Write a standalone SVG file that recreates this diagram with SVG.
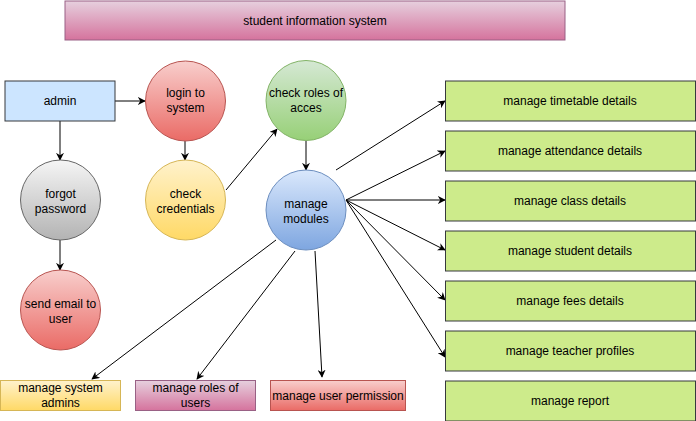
<svg xmlns="http://www.w3.org/2000/svg" width="696" height="421" viewBox="0 0 696 421">
<style>
text{font-family:"Liberation Sans",Arial,sans-serif;font-size:12px;fill:#000;text-anchor:middle}
.e{stroke:#000;stroke-width:1;fill:none;marker-end:url(#ah)}
.g{fill:#cdeb8b;stroke:#36393d}
</style>
<defs>
<marker id="ah" viewBox="0 0 10 10" refX="9" refY="5" markerWidth="8" markerHeight="8" orient="auto" markerUnits="userSpaceOnUse">
<path d="M0,0 L10,5 L0,10 L3,5 Z" fill="#000"/>
</marker>
<linearGradient id="gPink" x1="0" y1="0" x2="0" y2="1"><stop offset="0" stop-color="#e6d0de"/><stop offset="1" stop-color="#d5739d"/></linearGradient>
<linearGradient id="gRed" x1="0" y1="0" x2="0" y2="1"><stop offset="0" stop-color="#f8cecc"/><stop offset="1" stop-color="#ea6b66"/></linearGradient>
<linearGradient id="gYel" x1="0" y1="0" x2="0" y2="1"><stop offset="0" stop-color="#fff2cc"/><stop offset="1" stop-color="#ffd966"/></linearGradient>
<linearGradient id="gGrn" x1="0" y1="0" x2="0" y2="1"><stop offset="0" stop-color="#d5e8d4"/><stop offset="1" stop-color="#97d077"/></linearGradient>
<linearGradient id="gBlu" x1="0" y1="0" x2="0" y2="1"><stop offset="0" stop-color="#dae8fc"/><stop offset="1" stop-color="#7ea6e0"/></linearGradient>
<linearGradient id="gGry" x1="0" y1="0" x2="0" y2="1"><stop offset="0" stop-color="#f5f5f5"/><stop offset="1" stop-color="#b3b3b3"/></linearGradient>
</defs>

<g id="connectors">
<line class="e" x1="115" y1="101" x2="145" y2="101"/>
<line class="e" x1="60" y1="121" x2="60" y2="160"/>
<line class="e" x1="60" y1="240" x2="60" y2="270"/>
<line class="e" x1="185" y1="141" x2="185" y2="160"/>
<line class="e" x1="226" y1="190" x2="277" y2="129"/>
<line class="e" x1="306" y1="141" x2="306" y2="170"/>
<line class="e" x1="336" y1="170" x2="445" y2="101"/>
<line class="e" x1="346" y1="200" x2="445" y2="151"/>
<line class="e" x1="346" y1="200" x2="445" y2="200"/>
<line class="e" x1="346" y1="200" x2="445" y2="250"/>
<line class="e" x1="346" y1="200" x2="445" y2="300"/>
<line class="e" x1="346" y1="200" x2="445" y2="357"/>
<line class="e" x1="276" y1="240" x2="92" y2="379"/>
<line class="e" x1="295" y1="251" x2="197" y2="379"/>
<line class="e" x1="315" y1="251" x2="322" y2="377"/>
</g>

<g id="title">
<rect x="65" y="1" width="500" height="39" fill="url(#gPink)" stroke="#996185"/>
<text x="315" y="25">student information system</text>
</g>

<g id="admin">
<rect x="5" y="81" width="110" height="40" fill="#cce5ff" stroke="#36393d"/>
<text x="60" y="105">admin</text>
</g>

<g id="login">
<circle cx="185.5" cy="101" r="40" fill="url(#gRed)" stroke="#b85450"/>
<text x="185.5" y="97">login to</text>
<text x="185.5" y="112">system</text>
</g>

<g id="check-credentials">
<circle cx="185.5" cy="200" r="40" fill="url(#gYel)" stroke="#d6b656"/>
<text x="185.5" y="198">check</text>
<text x="185.5" y="213">credentials</text>
</g>

<g id="check-roles">
<circle cx="306" cy="100.5" r="40" fill="url(#gGrn)" stroke="#82b366"/>
<text x="306" y="97">check roles of</text>
<text x="306" y="112">acces</text>
</g>

<g id="manage-modules">
<circle cx="306" cy="210" r="40" fill="url(#gBlu)" stroke="#6c8ebf"/>
<text x="306" y="208">manage</text>
<text x="306" y="223">modules</text>
</g>

<g id="forgot-password">
<circle cx="60.5" cy="200" r="40" fill="url(#gGry)" stroke="#666666"/>
<text x="60.5" y="198">forgot</text>
<text x="60.5" y="213">password</text>
</g>

<g id="send-email">
<circle cx="60.5" cy="310" r="40" fill="url(#gRed)" stroke="#b85450"/>
<text x="60.5" y="308">send email to</text>
<text x="60.5" y="323">user</text>
</g>

<g id="manage-system-admins">
<rect x="0.5" y="380.5" width="120" height="30" fill="url(#gYel)" stroke="#d6b656"/>
<text x="60.5" y="392">manage system</text>
<text x="60.5" y="407">admins</text>
</g>

<g id="manage-roles-of-users">
<rect x="135.5" y="380.5" width="120" height="30" fill="url(#gPink)" stroke="#996185"/>
<text x="195.5" y="392">manage roles of</text>
<text x="195.5" y="407">users</text>
</g>

<g id="manage-user-permission">
<rect x="270.5" y="380.5" width="135" height="30" fill="url(#gRed)" stroke="#b85450"/>
<text x="338" y="400">manage user permission</text>
</g>

<g id="manage-timetable"><rect class="g" x="445.5" y="81" width="250" height="40"/><text x="570" y="105">manage timetable details</text></g>
<g id="manage-attendance"><rect class="g" x="445.5" y="131" width="250" height="40"/><text x="570" y="155">manage attendance details</text></g>
<g id="manage-class"><rect class="g" x="445.5" y="181" width="250" height="40"/><text x="570" y="205">manage class details</text></g>
<g id="manage-student"><rect class="g" x="445.5" y="231" width="250" height="40"/><text x="570" y="255">manage student details</text></g>
<g id="manage-fees"><rect class="g" x="445.5" y="281" width="250" height="40"/><text x="570" y="305">manage fees details</text></g>
<g id="manage-teacher"><rect class="g" x="445.5" y="331" width="250" height="40"/><text x="570" y="355">manage teacher profiles</text></g>
<g id="manage-report"><rect class="g" x="445.5" y="381" width="250" height="40"/><text x="570" y="405">manage report</text></g>
</svg>
